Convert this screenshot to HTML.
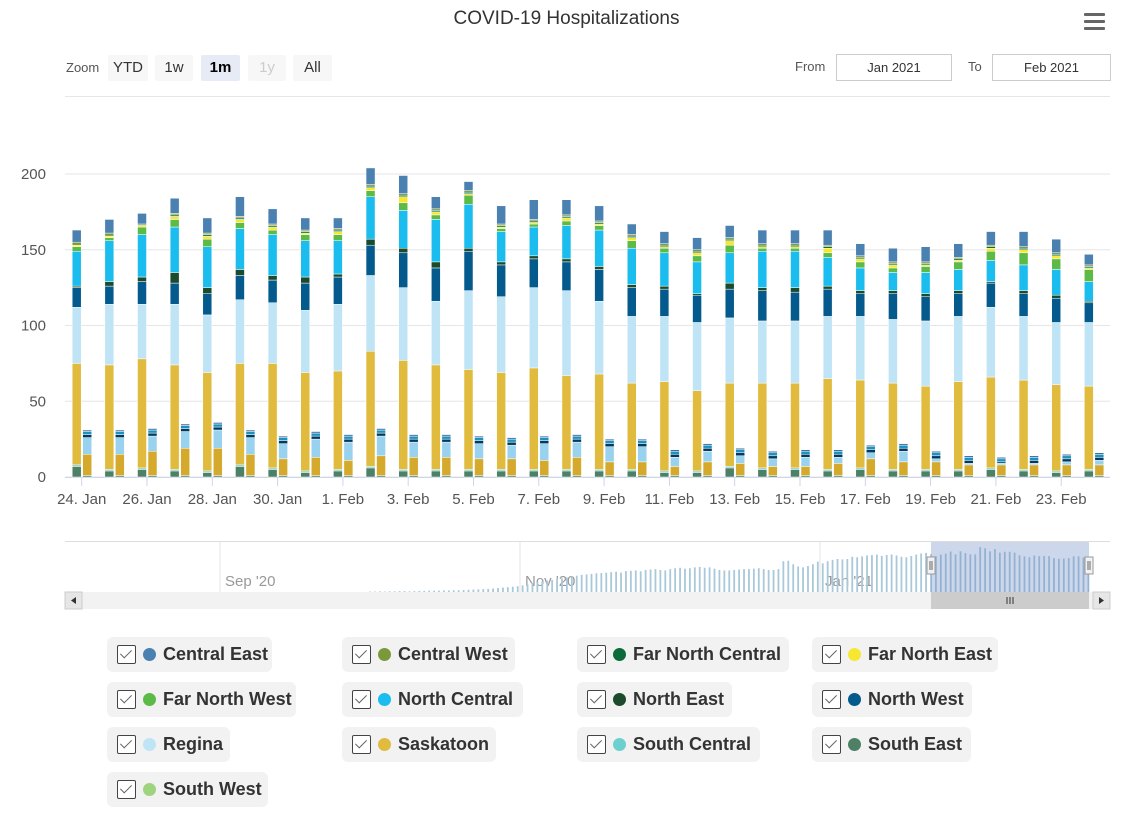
<!DOCTYPE html>
<html><head><meta charset="utf-8">
<style>
body{margin:0;background:#fff;font-family:"Liberation Sans",sans-serif;}
#wrap{position:relative;width:1139px;height:827px;overflow:hidden;}
.btn{position:absolute;top:55px;height:26px;line-height:26px;text-align:center;background:#f7f7f7;color:#333;font-size:15px;border-radius:2px;}
.inp{position:absolute;top:54px;height:25px;border:1px solid #ccc;font-size:13px;color:#333;text-align:center;line-height:25px;}
.leg{position:absolute;height:35px;background:#f2f2f2;border-radius:6px;font-size:18px;font-weight:bold;color:#333;line-height:35px;white-space:nowrap;}
.cb{position:absolute;left:10px;top:8px;width:17px;height:17px;border:1px solid #444;background:#fff;border-radius:2px;}
.cb:after{content:"";position:absolute;left:5px;top:1px;width:5px;height:10px;border-right:1.5px solid #666;border-bottom:1.5px solid #666;transform:rotate(45deg);}
.dot{position:absolute;left:36px;top:11px;width:13px;height:13px;border-radius:50%;}
.lt{position:absolute;left:56px;top:0;}
</style></head><body>
<div id="wrap">
<div style="position:absolute;left:0;width:1133px;top:8px;text-align:center;font-size:19px;color:#333;">COVID-19 Hospitalizations</div>
<div style="position:absolute;left:1084px;top:13px;width:21px;height:18px;">
<div style="height:3px;background:#666;margin-bottom:4px;border-radius:1px"></div><div style="height:3px;background:#666;margin-bottom:4px;border-radius:1px"></div><div style="height:3px;background:#666;border-radius:1px"></div></div>
<div style="position:absolute;left:66px;top:60px;font-size:13px;color:#555;">Zoom</div>
<div class="btn" style="left:108px;width:40px;">YTD</div>
<div class="btn" style="left:155px;width:38px;">1w</div>
<div class="btn" style="left:201px;width:39px;background:#e6ebf5;font-weight:bold;color:#000;">1m</div>
<div class="btn" style="left:248px;width:38px;color:#ccc;">1y</div>
<div class="btn" style="left:293px;width:39px;">All</div>
<div style="position:absolute;left:795px;top:59px;font-size:13px;color:#555;">From</div>
<div class="inp" style="left:836px;width:114px;">Jan 2021</div>
<div style="position:absolute;left:968px;top:59px;font-size:13px;color:#555;">To</div>
<div class="inp" style="left:992px;width:117px;">Feb 2021</div>
<svg id="svg" width="1139" height="627" style="position:absolute;left:0;top:0"></svg>
<div id="legend"></div>
</div>
<script>
const dayLabels=["24. Jan","","26. Jan","","28. Jan","","30. Jan","","1. Feb","","3. Feb","","5. Feb","","7. Feb","","9. Feb","","11. Feb","","13. Feb","","15. Feb","","17. Feb","","19. Feb","","21. Feb","","23. Feb",""];
const yTicks=[0,50,100,150,200];
// hospitalized (tall stacks), bottom to top
const southEast=[7,4,5,4,3,7,5,3,4,6,4,4,4,4,4,4,4,4,3,3,6,5,5,4,5,4,4,4,5,4,3,4];
const southCentral=[1,1,1,1,1,1,1,1,1,1,1,1,1,1,1,1,1,1,1,1,1,1,1,1,1,1,1,1,1,1,1,1];
const saskatoon=[67,69,72,69,65,67,69,65,65,76,72,69,66,64,67,62,63,57,59,53,55,56,56,60,58,57,55,58,60,59,57,55];
const regina=[37,40,36,40,38,42,40,41,44,50,48,42,52,50,53,56,48,44,43,45,43,41,41,41,42,42,43,43,46,42,41,42];
const northWest=[13,12,15,14,14,16,15,18,18,20,23,22,26,21,19,19,21,19,18,18,19,20,19,18,15,17,16,15,16,15,16,13];
const northEast=[1,3,3,7,4,4,3,4,2,4,3,4,2,2,2,2,2,2,2,1,4,2,3,2,2,2,2,2,1,2,2,1];
const northCentral=[23,27,28,30,27,27,27,24,22,28,25,28,29,20,19,22,24,24,22,21,20,24,24,19,15,12,14,14,14,17,17,13];
const farNorthWest=[3,2,5,5,5,4,3,4,4,4,5,3,6,2,2,3,3,5,3,4,5,2,2,3,4,3,4,5,6,8,7,8];
const farNorthEast=[1,1,1,2,2,2,2,1,2,2,4,2,1,1,1,2,1,2,1,2,3,1,1,3,2,2,1,1,2,2,2,1];
const farNorthCentral=[0,0,0,1,1,1,1,1,1,1,1,1,1,1,1,1,1,1,1,1,1,1,1,1,1,1,1,1,1,1,1,1];
const centralWest=[2,2,1,1,1,1,1,1,1,1,1,1,1,1,1,1,1,1,1,1,1,1,1,1,1,1,1,1,1,1,1,1];
const centralEast=[8,9,7,10,10,13,10,8,7,11,12,8,6,12,13,10,10,7,8,8,8,9,9,10,8,9,10,9,9,10,9,7];
// ICU (short stacks)
const icuSouthEast=[1,1,1,1,1,1,1,1,1,1,1,1,1,1,1,1,1,1,1,1,1,1,1,1,1,1,1,1,1,1,1,1];
const icuSaskatoon=[14,14,16,18,18,14,11,12,10,13,12,12,11,11,10,12,9,9,6,9,8,6,6,8,11,9,9,7,7,7,7,7];
const icuRegina=[11,11,10,11,12,11,10,12,12,13,10,10,10,9,11,10,10,10,6,7,5,5,6,4,4,7,2,1,1,1,2,3];
const icuNorthWest=[2,2,2,2,2,2,2,2,2,2,2,2,2,2,2,2,2,2,2,2,2,2,2,2,2,2,2,2,1,2,2,2];
const icuNorthEast=[0,0,0,0,0,0,0,0,0,0,0,0,0,0,0,0,0,0,0,0,0,0,0,0,0,0,0,0,0,0,0,0];
const icuNorthCentral=[2,2,2,2,2,2,2,2,2,2,2,2,2,2,2,2,2,2,2,2,2,2,2,2,2,2,2,2,2,2,2,2];
const icuCentralEast=[1,1,1,1,1,1,1,1,1,1,1,1,1,1,1,1,1,1,1,1,1,1,1,1,1,1,1,1,1,1,1,1];
// navigator totals Oct 1 .. Jan 23
const navTotals=[2,2,3,2,3,3,4,4,3,4,5,5,6,6,6,7,7,8,8,9,10,11,12,13,14,16,18,20,22,24,26,
30,35,40,45,48,52,55,60,62,66,70,74,78,80,82,85,86,88,90,92,88,95,96,98,94,100,102,104,100,98,
104,108,110,106,108,112,114,110,112,106,100,98,98,100,102,104,104,106,108,104,100,100,104,140,142,126,116,112,118,126,138,
130,140,146,150,148,150,160,158,162,166,168,170,164,168,170,166,160,158,164,170,175,178,172];
const navLabels=["Sep '20","Nov '20","Jan '21"];

const NS="http://www.w3.org/2000/svg";
const svg=document.getElementById('svg');
function el(t,a){const e=document.createElementNS(NS,t);for(const k in a)e.setAttribute(k,a[k]);svg.appendChild(e);return e;}
const x0=81.7,dx=32.65;
function xDay(i){return x0+i*dx;}
function yVal(v){return 477-v*1.515;}

el('line',{x1:65,x2:1110,y1:96.5,y2:96.5,stroke:'#e6e6e6'});
yTicks.forEach(t=>{
 const g=el('line',{x1:65,x2:1110,y1:yVal(t),y2:yVal(t),stroke:'#e6e6e6'});
 
 const tx=el('text',{x:46,y:yVal(t)+5,'text-anchor':'end','font-size':15,fill:'#555'});
 tx.textContent=t;
 
 
});
el('line',{x1:65,x2:1110,y1:477.5,y2:477.5,stroke:'#ccd6eb'});

const tall=[[southEast,'#4e8065'],[southCentral,'#6ecfcf'],[saskatoon,'#e0bb3e'],[regina,'#bfe4f6'],[northWest,'#045a8d'],[northEast,'#1b4a2c'],[northCentral,'#1bbcee'],[farNorthWest,'#5cba47'],[farNorthEast,'#f7e733'],[farNorthCentral,'#0b6b3a'],[centralWest,'#7a993b'],[centralEast,'#4a81b1']];
const shortS=[[icuSouthEast,'#4e8065'],[icuSaskatoon,'#d4a92c'],[icuRegina,'#98d2ee'],[icuNorthWest,'#023a5e'],[icuNorthEast,'#1b4a2c'],[icuNorthCentral,'#1a91c2'],[icuCentralEast,'#3d6f9e']];
for(let i=0;i<dayLabels.length;i++){
 const xc=xDay(i);
 let cum=0;
 tall.forEach(([arr,c])=>{const v=arr[i];if(!v)return;
  const r=el('rect',{x:xc-9.5,y:yVal(cum+v),width:9,height:v*1.515,fill:c,stroke:'#fff','stroke-width':0.5});
  
  
  cum+=v;});
 cum=0;
 shortS.forEach(([arr,c])=>{const v=arr[i];if(!v)return;
  const r=el('rect',{x:xc+1,y:yVal(cum+v),width:9,height:v*1.515,fill:c,stroke:'#fff','stroke-width':0.5});
  
  
  cum+=v;});
 if(i%2===0){
  el('line',{x1:xc,x2:xc,y1:478,y2:486,stroke:'#ccd6eb'});
  const t=el('text',{x:xc,y:504,'text-anchor':'middle','font-size':15,fill:'#555'});
  t.textContent=dayLabels[i];
  
  
 }
}
// navigator
el('line',{x1:65,x2:1110,y1:541.5,y2:541.5,stroke:'#ddd'});
[220,520,820].forEach((x,k)=>{
 el('line',{x1:x,x2:x,y1:542,y2:592,stroke:'#e6e6e6'});
 const t=el('text',{x:x+5,y:586,'font-size':15,fill:'#999'});
 t.textContent=navLabels[k];
 
 
});
const pxDay=4.92, oct1=370;
const totalsMain=dayLabels.map((_,i)=>tall.reduce((s,[a])=>s+a[i],0));
const allNav=navTotals.concat(totalsMain);
allNav.forEach((v,i)=>{
 const x=oct1+i*pxDay;const h=v*0.22;
 el('rect',{x:x-0.8,y:592-h,width:1.8,height:h,fill:'#a9c8da'});
});
const sel=el('rect',{x:931,y:542,width:158,height:50,fill:'rgba(102,133,194,0.33)'});


[931,1089].forEach(x=>{const h=el('rect',{x:x-4,y:557,width:8,height:17,fill:'#f2f2f2',stroke:'#999'});
 
 
 el('line',{x1:x-1,x2:x-1,y1:561,y2:570,stroke:'#666'});el('line',{x1:x+1,x2:x+1,y1:561,y2:570,stroke:'#666'});});
const sb=el('rect',{x:65,y:592,width:1045,height:17,fill:'#f2f2f2'});


const th=el('rect',{x:931,y:592,width:158,height:17,fill:'#ccc'});


[1007,1010,1013].forEach(x=>el('line',{x1:x,x2:x,y1:597,y2:604,stroke:'#333'}));
el('rect',{x:65,y:592,width:17,height:17,fill:'#e6e6e6',stroke:'#ccc'});
el('path',{d:'M76 597 L71 600.5 L76 604Z',fill:'#333'});
el('rect',{x:1093,y:592,width:17,height:17,fill:'#e6e6e6',stroke:'#ccc'});
el('path',{d:'M1099 597 L1104 600.5 L1099 604Z',fill:'#333'});

const legItems=[["Central East","#4a81b1",165],["Central West","#7a993b",173],["Far North Central","#0b6b3a",212],["Far North East","#f7e733",186],
["Far North West","#5cba47",189],["North Central","#1bbcee",181],["North East","#1b4a2c",155],["North West","#045a8d",160],
["Regina","#bfe4f6",123],["Saskatoon","#e0bb3e",154],["South Central","#6ecfcf",183],["South East","#4e8065",159],
["South West","#9fd47e",161]];
const lg=document.getElementById('legend');
legItems.forEach(([n,c,w],i)=>{
 const d=document.createElement('div');d.className='leg';
 d.style.left=(107+(i%4)*235)+'px';d.style.top=(637+Math.floor(i/4)*45)+'px';d.style.width=w+'px';
 d.innerHTML='<span class="cb"></span><span class="dot" style="background:'+c+'"></span><span class="lt">'+n+'</span>';
 
 
 lg.appendChild(d);
});
</script>
</body></html>
